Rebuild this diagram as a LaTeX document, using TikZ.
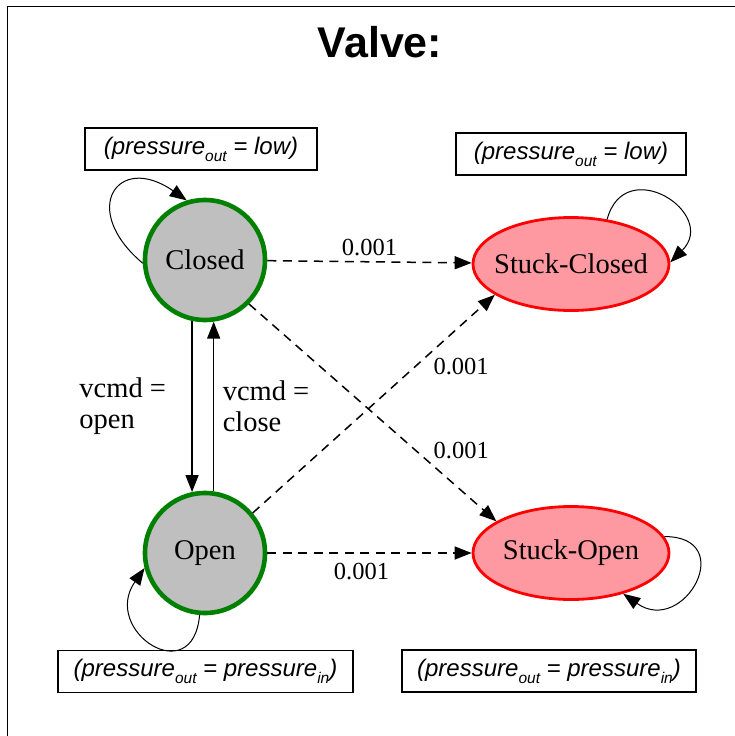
\documentclass[tikz,border=0pt]{standalone}
\usepackage{fontspec}
\setmainfont{Liberation Serif}
\setsansfont{Liberation Sans}
\usepackage{tikz}
\usetikzlibrary{shapes.geometric}
\usetikzlibrary{arrows.meta}
\usetikzlibrary{positioning}
\definecolor{okgreen}{RGB}{0,128,0}
\definecolor{failpink}{RGB}{255,153,161}
\newcommand{\psub}[1]{\raisebox{-0.3em}{\fontsize{15.5}{15.5}\selectfont #1}}

\begin{document}
\begin{tikzpicture}[x=1pt, y=1pt,
		good/.style={circle, draw=okgreen, line width=4.6pt, fill=black!25, minimum size=120pt, inner sep=0pt, font=\fontsize{28.5}{28}\selectfont},
		bad/.style={ellipse, draw=red, line width=2.8pt, fill=failpink, minimum width=196pt, minimum height=93pt, inner xsep=-9pt, inner ysep=0pt, font=\fontsize{28.5}{28}\selectfont},
		outbox/.style={draw, line width=1.2pt, minimum height=42pt, inner sep=0pt, font=\sffamily\itshape\fontsize{24}{28}\selectfont},
		trans/.style={-{Triangle[length=17pt,width=13pt]}, line width=1.5pt},
		fail/.style={trans, dash pattern=on 9pt off 6.5pt},
		selfloop/.style={-{Triangle[length=17pt,width=13pt]}, line width=1pt},
		prob/.style={font=\fontsize{24.5}{28}\selectfont},
		cmd/.style={font=\fontsize{28.5}{31}\selectfont, align=left}]
		\useasboundingbox (0,0) rectangle (735,-736);
		\draw[line width=1pt] (7,-6) rectangle (760,-760);
		\node[font=\sffamily\bfseries\fontsize{43}{50}\selectfont, anchor=base] (title) at (380,-57) {Valve:};
		% states
		\node[good] (closed) at (205,-260) {Closed};
		\node[good] (open) at (205,-553) {Open};
		\node[bad] (stuckC) at (571,-264) {Stuck-Closed};
		\node[bad] (stuckO) at (571,-553) {Stuck-Open};
		% outputs
		\node[outbox, minimum width=232pt] (closedOut) at (201,-149) {(pressure\psub{out} = low)};
		\node[outbox, minimum width=230pt] (stuckCOut) at (571,-154) {(pressure\psub{out} = low)};
		\node[outbox, minimum width=295pt] (openOut) at (205.5,-671.5) {(pressure\psub{out} = pressure\psub{in})};
		\node[outbox, minimum width=294pt] (stuckOOut) at (549,-671) {(pressure\psub{out} = pressure\psub{in})};
		% commands
		\draw[trans] (closed.258) -- node[cmd, left=22pt] {vcmd =\\open} (open.102);
		\draw[trans] (open.82) -- node[cmd, right=5pt] {vcmd =\\close} (closed.278);
		% failures
		\draw[fail] (closed) -- node[prob, above=2pt] {0.001} (stuckC);
		\draw[fail] (open) -- node[prob, below=6pt, xshift=-8pt] {0.001} (stuckO);
		\draw[fail] (closed.-45) -- node[prob, pos=.73, anchor=south west] {0.001} (stuckO.157);
		\draw[fail] (open.40) -- node[prob, pos=.73, anchor=north west] {0.001} (stuckC.202);
		% self loops
		\draw[selfloop] (closed.183) to[out=140, in=145, looseness=2.8] (closed.107);
		\draw[selfloop] (open.265) to[out=265, in=235, looseness=2.7] (open.194);
		\draw[selfloop] (stuckC.51) to[out=75, in=45, looseness=2.3] (stuckC.1);
		\draw[selfloop] (stuckO.10) to[out=0, in=-35, looseness=2.7] (stuckO.322);
\end{tikzpicture}
\end{document}
